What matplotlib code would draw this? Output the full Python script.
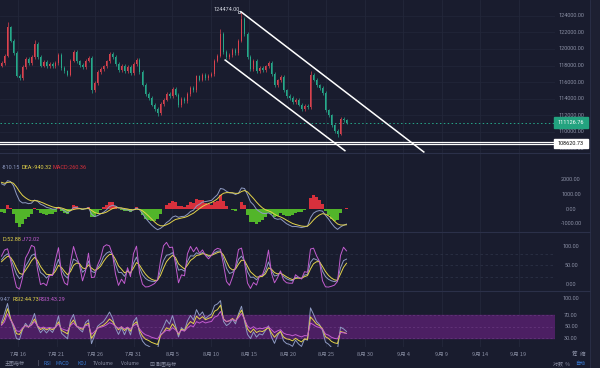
import numpy as np
import matplotlib
matplotlib.use('Agg')
import matplotlib.pyplot as plt
from matplotlib import transforms

# ---- candle closes, roughly one candle every ~9h
closes = [
    118300, 119200, 122600, 121000, 119500, 116800, 116500, 117800, 118800, 118300,
    119000, 120600, 119000, 118000, 118400, 117900, 118200, 117900, 118300, 119300,
    117700, 117300, 116900, 118600, 119600, 118500, 118100, 117800, 118600, 118900,
    115000, 115900, 117200, 117600, 117900, 118500, 119400, 119000, 118200, 117500,
    118000, 117300, 117800, 117100, 118200, 118700, 117200, 115700, 114600, 114100,
    113300, 112800, 112300, 113400, 113900, 114600, 114300, 115200, 114500, 113200,
    114000, 113700, 114600, 115300, 115000, 116700, 116300, 116900, 116500, 116800,
    117000, 118600, 119200, 121800, 119600, 119000, 119300, 119900, 119500, 121000,
    123600, 121800, 119000, 117600, 118600, 117300, 117700, 117500, 117900, 118300,
    117000, 115600, 116200, 116600, 115000, 114300, 114100, 113600, 113900, 113300,
    112800, 113100, 113000, 116900, 116300, 115600, 115300, 114700, 112600, 112000,
    110800, 110100, 109800, 111600, 111400, 111126.76]
first_open = 118000
peak_highs = {2: 123300, 11: 121100, 73: 122400, 80: 124474, 103: 117300}
deep_lows = {30: 114700, 52: 111900, 112: 109400}

last_price = 111126.76
support = 108620.73
# channel lines (day, price)
upper_line = [(44.95, 124474), (68.7, 107590)]
lower_line = [(42.9, 118660), (58.45, 107750)]

price_ticks = [108000, 110000, 112000, 114000, 116000, 118000, 120000, 122000, 124000]
macd_ticks = [2000, 1000, 0, -1000]
kdj_ticks = [100, 50, 0]
rsi_ticks = [100, 70, 50, 30]
date_pos = [16, 21, 26, 31, 36, 41, 46, 51, 56, 61, 66, 71, 76, 81]
date_lbl = ['7月 16', '7月 21', '7月 26', '7月 31', '8月 5', '8月 10', '8月 15',
            '8月 20', '8月 25', '8月 30', '9月 4', '9月 9', '9月 14', '9月 19']

bg = '#191c2e'
grid = '#23273a'
txt = '#8b90a5'
c_up, c_dn = '#d9424e', '#26a98a'
c_1, c_2, c_3 = '#8e9ac2', '#e3d34a', '#c25ccf'

closes = np.array(closes, dtype=float)
n = len(closes)
opens = np.concatenate([[first_open], closes[:-1]])
highs = np.maximum(opens, closes) + 220
lows = np.minimum(opens, closes) - 220
for k, v in peak_highs.items():
    highs[k] = v
for k, v in deep_lows.items():
    lows[k] = v
step = 3 / 7.7
t = 13.66 + 1.5 / 7.7 + np.arange(n) * step

# ---- indicators
def ema(x, span, seed):
    a = 2 / (span + 1)
    out, v = [], seed
    for xi in x:
        v = a * xi + (1 - a) * v
        out.append(v)
    return np.array(out)

dif = ema(closes, 7, closes[0]) - ema(closes, 15, closes[0] - 1950)
dea = ema(dif, 5, 1850)
hist = 2 * (dif - dea)

kv, dv, K, D = 60.0, 55.0, [], []
for i in range(n):
    lo = lows[max(0, i - 3):i + 1].min()
    hi = highs[max(0, i - 3):i + 1].max()
    rsv = (closes[i] - lo) / (hi - lo) * 100
    kv = 0.5 * kv + 0.5 * rsv
    dv = 0.5 * dv + 0.5 * kv
    K.append(kv)
    D.append(dv)
K, D = np.array(K), np.array(D)
J = 3 * K - 2 * D

def rsi(x, p):
    g, l, out = 300.0, 300.0, []
    prev = first_open
    for xi in x:
        ch = xi - prev
        prev = xi
        g = (g * (p - 1) + max(ch, 0)) / p
        l = (l * (p - 1) + max(-ch, 0)) / p
        out.append(100 * g / (g + l))
    return np.array(out)

rsi1, rsi2, rsi3 = rsi(closes, 4), rsi(closes, 7), rsi(closes, 12)

# ---- figure
W, H = 600, 368
fig = plt.figure(figsize=(6, 3.68), dpi=100, facecolor=bg)

def pane(y0, y1):
    ax = fig.add_axes([0, 1 - y1 / H, 555 / W, (y1 - y0) / H])
    ax.set_facecolor(bg)
    for s in ax.spines.values():
        s.set_visible(False)
    ax.set_xticks([])
    ax.set_yticks([])
    ax.set_xlim(13.66, 13.66 + 555 / 7.7)
    for d in date_pos:
        ax.axvline(d, color=grid, lw=0.6, zorder=0)
    return ax

ax = pane(0, 153)
ax_m = pane(153, 232)
ax_k = pane(232, 291)
ax_r = pane(291, 347)
ax.set_ylim(124000 - 137.3 * 120.4, 124000 + 15.7 * 120.4)
ax_m.set_ylim(-1554, 3784)
ax_k.set_ylim(-18.9, 140.5)
ax_r.set_ylim(14.25, 112.25)

def right_labels(a, ticks):
    tr = transforms.blended_transform_factory(fig.transFigure, a.transData)
    for v in ticks:
        a.text(571 / W, v, '%.2f' % v, transform=tr, ha='center', va='center',
               fontsize=4, color=txt, family='Roboto', clip_on=False)

# main pane
for v in price_ticks:
    ax.axhline(v, color=grid, lw=0.5, zorder=0)
up = closes >= opens
cols = np.where(up, c_up, c_dn)
ax.vlines(t, lows, highs, colors=cols, lw=0.5, zorder=2)
ax.bar(t, np.maximum(np.abs(closes - opens), 60), bottom=np.minimum(opens, closes),
       width=step * 0.55, color=cols, zorder=3)
for ln in (upper_line, lower_line):
    ax.plot([ln[0][0], ln[1][0]], [ln[0][1], ln[1][1]], color='white', lw=1.1,
            zorder=4, clip_on=False)
ax.axhline(last_price, color=c_dn, lw=0.7, ls=(0, (1.5, 2.5)), zorder=1)
ax.axhline(support + 120, color='white', lw=0.9, zorder=4)
ax.axhline(support - 120, color='white', lw=0.9, zorder=4)
ax.plot(upper_line[0][0] - 0.25, 124474, marker='s', ms=1.6, mfc='none', mec='#cfd2dc', mew=0.5)
ax.text(upper_line[0][0] - 1.9, 124474 + 300, '124474.00', fontsize=4, color='#d4d7e0',
        ha='center', va='center', family='Roboto')
right_labels(ax, price_ticks)
tr = transforms.blended_transform_factory(fig.transFigure, ax.transData)
ax.add_patch(plt.Rectangle((554 / W, last_price - 620), 34 / W, 1240, transform=tr,
                           color='#23a37f', clip_on=False, zorder=6))
ax.text(571 / W, last_price, '%.2f' % last_price, transform=tr, ha='center', va='center',
        fontsize=4, color='white', family='Roboto', zorder=7, clip_on=False)
ax.add_patch(plt.Rectangle((554 / W, support - 560), 34 / W, 1120, transform=tr,
                           color='white', clip_on=False, zorder=6))
ax.text(571 / W, support, '%.2f' % support, transform=tr, ha='center', va='center',
        fontsize=4, color='#111111', family='Roboto', zorder=7, clip_on=False)

# MACD
ax_m.bar(t, hist, width=step, color=np.where(hist >= 0, '#d8303c', '#52b52a'), zorder=2)
ax_m.plot(t, dif, color=c_1, lw=0.7, zorder=3)
ax_m.plot(t, dea, color=c_2, lw=0.7, zorder=3)
right_labels(ax_m, macd_ticks)
ax_m.text(0.004, 0.8, '-810.15', transform=ax_m.transAxes, fontsize=4, color=c_1, family='Roboto')
ax_m.text(0.038, 0.8, 'DEA:-940.32', transform=ax_m.transAxes, fontsize=4, color=c_2, family='Roboto')
ax_m.text(0.094, 0.8, 'MACD:260.36', transform=ax_m.transAxes, fontsize=4, color='#d8303c', family='Roboto')

# KDJ
for v in (80, 50, 20):
    ax_k.axhline(v, color='#2c3145', lw=0.6, ls=(0, (3, 3)), zorder=0)
ax_k.plot(t, K, color=c_1, lw=0.7)
ax_k.plot(t, D, color=c_2, lw=0.7)
ax_k.plot(t, J, color=c_3, lw=0.7)
right_labels(ax_k, kdj_ticks)
ax_k.text(0.004, 0.85, 'D:52.88', transform=ax_k.transAxes, fontsize=4, color=c_2, family='Roboto')
ax_k.text(0.04, 0.85, 'J:72.02', transform=ax_k.transAxes, fontsize=4, color=c_3, family='Roboto')

# RSI
ax_r.axhspan(30, 70, color='#4c1f63', zorder=0)
for v in (70, 50, 30):
    ax_r.axhline(v, color='#6a3a80', lw=0.5, ls=(0, (3, 3)), zorder=1)
ax_r.plot(t, rsi1, color=c_1, lw=0.7)
ax_r.plot(t, rsi2, color=c_2, lw=0.7)
ax_r.plot(t, rsi3, color=c_3, lw=0.7)
right_labels(ax_r, rsi_ticks)
ax_r.text(0.0, 0.82, '9.47', transform=ax_r.transAxes, fontsize=4, color=c_1, family='Roboto')
ax_r.text(0.022, 0.82, 'RSI2:44.73', transform=ax_r.transAxes, fontsize=4, color=c_2, family='Roboto')
ax_r.text(0.07, 0.82, 'RSI3:43.29', transform=ax_r.transAxes, fontsize=4, color=c_3, family='Roboto')

# pane separators and right strip
for y in (153, 232, 291):
    fig.add_artist(plt.Line2D([0, 590 / W], [1 - y / H] * 2, color='#2b3049', lw=0.8))
fig.add_artist(plt.Rectangle((590 / W, 0), 10 / W, 1, color='#1d2032', zorder=0))
fig.add_artist(plt.Line2D([590 / W] * 2, [0, 1], color='#2b3049', lw=0.6))

# date labels
trx = transforms.blended_transform_factory(ax_r.transData, fig.transFigure)
cjk = ['Noto Sans CJK SC', 'DejaVu Sans']
for d, s in zip(date_pos, date_lbl):
    ax_r.text(d, 1 - 354 / H, s, transform=trx, ha='center', va='center', fontsize=4,
              color=txt, family=cjk, clip_on=False)
fig.text(579 / W, 1 - 354 / H, '筹  缩', ha='center', va='center', fontsize=4, color=txt, family=cjk)

# bottom toolbar
yb = 1 - 363.5 / H
fig.text(5 / W, yb, '主图指标', fontsize=3.6, color=txt, va='center', family=cjk)
fig.text(38 / W, yb, '|', fontsize=3.6, color=txt, va='center', family=cjk)
fig.text(43 / W, yb, 'RSI', fontsize=3.6, color='#3a7bd5', va='center', family=cjk)
fig.text(56 / W, yb, 'MACD', fontsize=3.6, color='#3a7bd5', va='center', family=cjk)
fig.text(77 / W, yb, 'KDJ', fontsize=3.6, color='#3a7bd5', va='center', family=cjk)
fig.text(93 / W, yb, 'TVolume', fontsize=3.6, color=txt, va='center', family=cjk)
fig.text(121 / W, yb, 'Volume', fontsize=3.6, color=txt, va='center', family=cjk)
fig.text(150 / W, yb, '⊠ 副图指标', fontsize=3.6, color=txt, va='center', family=cjk)
fig.text(553 / W, yb, '对数  %', fontsize=3.6, color=txt, va='center', family=cjk)
fig.text(575 / W, yb, '自动', fontsize=3.6, color='#3a7bd5', va='center', family=cjk)

fig.savefig('out.png', dpi=100, facecolor=bg)
